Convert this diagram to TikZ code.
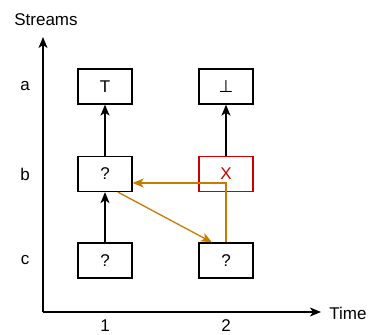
\documentclass[tikz,border=0pt]{standalone}
\usepackage{fontspec}
\setmainfont{Liberation Sans}
\newfontfamily\symfont{DejaVu Sans}
\usetikzlibrary{arrows.meta}
\definecolor{flowor}{HTML}{C97A00}
\definecolor{errred}{HTML}{CC0000}
\tikzset{
  cell/.style={draw, line width=1.3pt, minimum width=54pt, minimum height=35pt, inner sep=0pt, font=\fontsize{17}{20}\selectfont},
  badcell/.style={cell, draw=errred, text=errred},
  lbl/.style={font=\fontsize{17}{20}\selectfont, inner sep=0pt},
  tip/.style={-{Stealth[length=11pt, width=9pt, inset=3pt]}},
  dep/.style={tip, line width=1.3pt},
  flow/.style={line width=1.3pt, draw=flowor, -{Stealth[length=11pt, width=9pt, inset=3pt, flowor]}},
}
\begin{document}
\begin{tikzpicture}[x=1pt, y=-1pt]
\useasboundingbox (0,0) rectangle (368,335);

% axes
\coordinate (origin) at (43,312);
\coordinate (ytop) at (43,37);
\coordinate (xend) at (321,312);
\draw[dep] (origin) -- (ytop);
\draw[dep] (origin) -- (xend);
\node[lbl] (ylab) at (46,20) {Streams};
\node[lbl] (xlab) at (348,313) {Time};
\node[lbl] (t1) at (105,326) {1};
\node[lbl] (t2) at (226,326) {2};
\node[lbl] (sa) at (25,86.5) {a};
\node[lbl] (sb) at (25,174) {b};
\node[lbl] (sc) at (25,260.5) {c};

% cells
\node[cell] (a1) at (105,86.5) {T};
\node[cell] (a2) at (226,86.5) {\symfont ⊥};
\node[cell] (b1) at (105,174) {?};
\node[badcell] (b2) at (226,174) {X};
\node[cell] (c1) at (105,260.5) {?};
\node[cell] (c2) at (226,260.5) {?};

% dependencies within a stream
\draw[dep] (c1) -- (b1);
\draw[dep] (b1) -- (a1);
\draw[dep] (b2) -- (a2);

% cross-stream flow
\draw[flow] (c2.north) |- ([yshift=-9pt]b1.east);
\draw[flow] ([xshift=13pt]b1.south) -- ([xshift=-14pt]c2.north);
\end{tikzpicture}
\end{document}
